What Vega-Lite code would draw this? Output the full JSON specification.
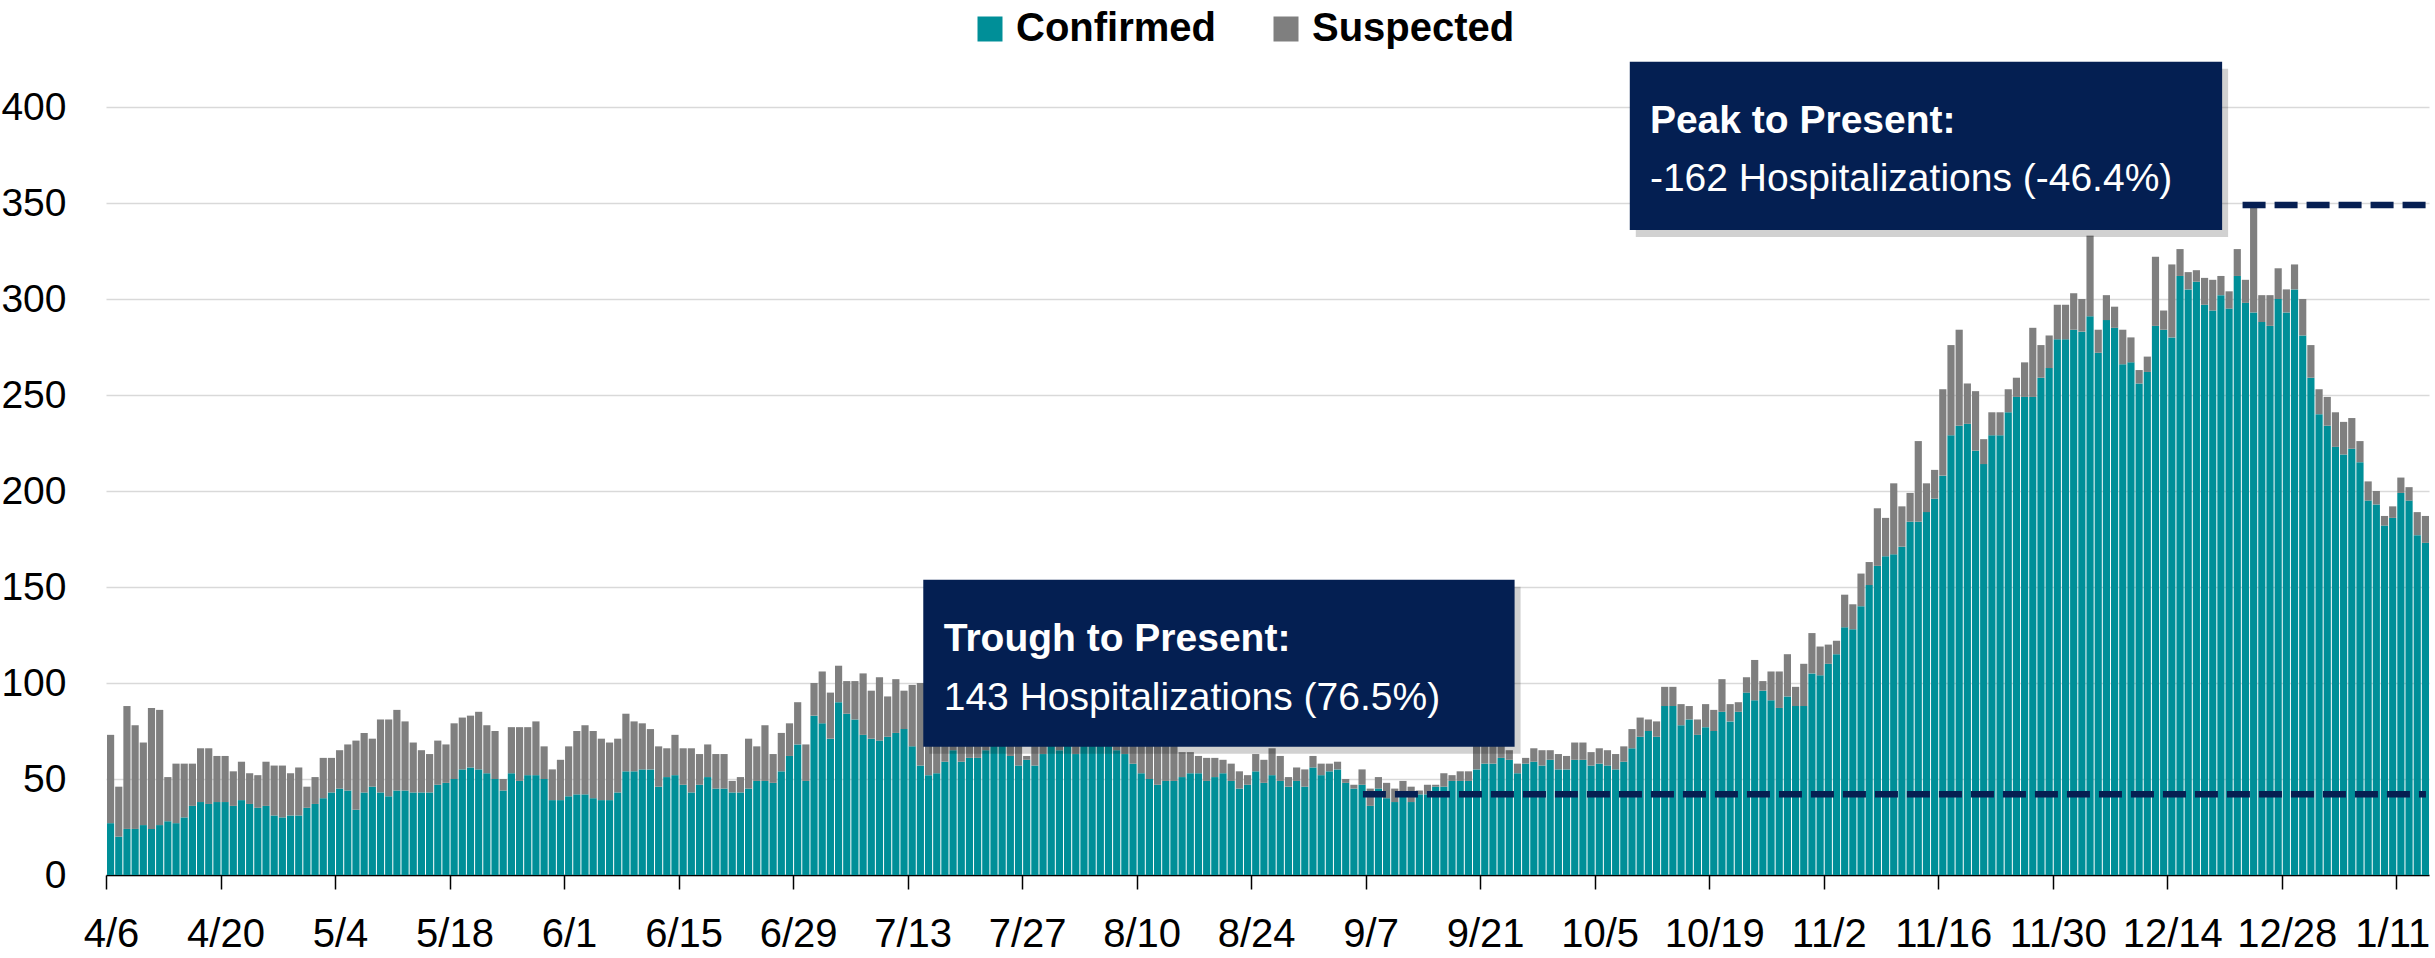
{
  "$schema": "https://vega.github.io/schema/vega-lite/v6.json",
  "width": 2323,
  "height": 768,
  "autosize": {"type": "none"},
  "padding": {"left": 106, "top": 107, "right": 6, "bottom": 83},
  "background": "white",
  "config": {"view": {"stroke": null}, "font": "Liberation Sans, Arial, sans-serif"},
  "datasets": {
    "hosp": [
      {"date":"2020-04-06","Confirmed":27,"Suspected":46},
      {"date":"2020-04-07","Confirmed":20,"Suspected":26},
      {"date":"2020-04-08","Confirmed":24,"Suspected":64},
      {"date":"2020-04-09","Confirmed":24,"Suspected":54},
      {"date":"2020-04-10","Confirmed":26,"Suspected":43},
      {"date":"2020-04-11","Confirmed":24,"Suspected":63},
      {"date":"2020-04-12","Confirmed":26,"Suspected":60},
      {"date":"2020-04-13","Confirmed":28,"Suspected":23},
      {"date":"2020-04-14","Confirmed":27,"Suspected":31},
      {"date":"2020-04-15","Confirmed":30,"Suspected":28},
      {"date":"2020-04-16","Confirmed":36,"Suspected":22},
      {"date":"2020-04-17","Confirmed":38,"Suspected":28},
      {"date":"2020-04-18","Confirmed":37,"Suspected":29},
      {"date":"2020-04-19","Confirmed":38,"Suspected":24},
      {"date":"2020-04-20","Confirmed":38,"Suspected":24},
      {"date":"2020-04-21","Confirmed":36,"Suspected":18},
      {"date":"2020-04-22","Confirmed":39,"Suspected":20},
      {"date":"2020-04-23","Confirmed":37,"Suspected":16},
      {"date":"2020-04-24","Confirmed":35,"Suspected":17},
      {"date":"2020-04-25","Confirmed":36,"Suspected":23},
      {"date":"2020-04-26","Confirmed":31,"Suspected":26},
      {"date":"2020-04-27","Confirmed":30,"Suspected":27},
      {"date":"2020-04-28","Confirmed":31,"Suspected":22},
      {"date":"2020-04-29","Confirmed":31,"Suspected":25},
      {"date":"2020-04-30","Confirmed":35,"Suspected":11},
      {"date":"2020-05-01","Confirmed":37,"Suspected":14},
      {"date":"2020-05-02","Confirmed":40,"Suspected":21},
      {"date":"2020-05-03","Confirmed":43,"Suspected":18},
      {"date":"2020-05-04","Confirmed":45,"Suspected":20},
      {"date":"2020-05-05","Confirmed":44,"Suspected":24},
      {"date":"2020-05-06","Confirmed":34,"Suspected":36},
      {"date":"2020-05-07","Confirmed":43,"Suspected":31},
      {"date":"2020-05-08","Confirmed":46,"Suspected":25},
      {"date":"2020-05-09","Confirmed":43,"Suspected":38},
      {"date":"2020-05-10","Confirmed":41,"Suspected":40},
      {"date":"2020-05-11","Confirmed":44,"Suspected":42},
      {"date":"2020-05-12","Confirmed":44,"Suspected":36},
      {"date":"2020-05-13","Confirmed":43,"Suspected":26},
      {"date":"2020-05-14","Confirmed":43,"Suspected":22},
      {"date":"2020-05-15","Confirmed":43,"Suspected":20},
      {"date":"2020-05-16","Confirmed":47,"Suspected":23},
      {"date":"2020-05-17","Confirmed":48,"Suspected":20},
      {"date":"2020-05-18","Confirmed":50,"Suspected":29},
      {"date":"2020-05-19","Confirmed":55,"Suspected":27},
      {"date":"2020-05-20","Confirmed":56,"Suspected":27},
      {"date":"2020-05-21","Confirmed":55,"Suspected":30},
      {"date":"2020-05-22","Confirmed":53,"Suspected":25},
      {"date":"2020-05-23","Confirmed":50,"Suspected":25},
      {"date":"2020-05-24","Confirmed":44,"Suspected":6},
      {"date":"2020-05-25","Confirmed":53,"Suspected":24},
      {"date":"2020-05-26","Confirmed":49,"Suspected":28},
      {"date":"2020-05-27","Confirmed":52,"Suspected":25},
      {"date":"2020-05-28","Confirmed":52,"Suspected":28},
      {"date":"2020-05-29","Confirmed":50,"Suspected":17},
      {"date":"2020-05-30","Confirmed":39,"Suspected":16},
      {"date":"2020-05-31","Confirmed":39,"Suspected":21},
      {"date":"2020-06-01","Confirmed":41,"Suspected":26},
      {"date":"2020-06-02","Confirmed":42,"Suspected":33},
      {"date":"2020-06-03","Confirmed":42,"Suspected":36},
      {"date":"2020-06-04","Confirmed":40,"Suspected":35},
      {"date":"2020-06-05","Confirmed":39,"Suspected":32},
      {"date":"2020-06-06","Confirmed":39,"Suspected":30},
      {"date":"2020-06-07","Confirmed":43,"Suspected":28},
      {"date":"2020-06-08","Confirmed":54,"Suspected":30},
      {"date":"2020-06-09","Confirmed":54,"Suspected":26},
      {"date":"2020-06-10","Confirmed":55,"Suspected":24},
      {"date":"2020-06-11","Confirmed":55,"Suspected":21},
      {"date":"2020-06-12","Confirmed":46,"Suspected":21},
      {"date":"2020-06-13","Confirmed":51,"Suspected":15},
      {"date":"2020-06-14","Confirmed":52,"Suspected":21},
      {"date":"2020-06-15","Confirmed":47,"Suspected":19},
      {"date":"2020-06-16","Confirmed":43,"Suspected":23},
      {"date":"2020-06-17","Confirmed":47,"Suspected":16},
      {"date":"2020-06-18","Confirmed":51,"Suspected":17},
      {"date":"2020-06-19","Confirmed":45,"Suspected":18},
      {"date":"2020-06-20","Confirmed":45,"Suspected":18},
      {"date":"2020-06-21","Confirmed":43,"Suspected":6},
      {"date":"2020-06-22","Confirmed":43,"Suspected":8},
      {"date":"2020-06-23","Confirmed":45,"Suspected":26},
      {"date":"2020-06-24","Confirmed":49,"Suspected":18},
      {"date":"2020-06-25","Confirmed":49,"Suspected":29},
      {"date":"2020-06-26","Confirmed":48,"Suspected":15},
      {"date":"2020-06-27","Confirmed":54,"Suspected":20},
      {"date":"2020-06-28","Confirmed":62,"Suspected":17},
      {"date":"2020-06-29","Confirmed":68,"Suspected":22},
      {"date":"2020-06-30","Confirmed":49,"Suspected":19},
      {"date":"2020-07-01","Confirmed":83,"Suspected":17},
      {"date":"2020-07-02","Confirmed":79,"Suspected":27},
      {"date":"2020-07-03","Confirmed":71,"Suspected":24},
      {"date":"2020-07-04","Confirmed":90,"Suspected":19},
      {"date":"2020-07-05","Confirmed":84,"Suspected":17},
      {"date":"2020-07-06","Confirmed":81,"Suspected":20},
      {"date":"2020-07-07","Confirmed":73,"Suspected":32},
      {"date":"2020-07-08","Confirmed":71,"Suspected":25},
      {"date":"2020-07-09","Confirmed":70,"Suspected":33},
      {"date":"2020-07-10","Confirmed":72,"Suspected":21},
      {"date":"2020-07-11","Confirmed":74,"Suspected":28},
      {"date":"2020-07-12","Confirmed":76,"Suspected":20},
      {"date":"2020-07-13","Confirmed":67,"Suspected":32},
      {"date":"2020-07-14","Confirmed":57,"Suspected":43},
      {"date":"2020-07-15","Confirmed":52,"Suspected":43},
      {"date":"2020-07-16","Confirmed":53,"Suspected":44},
      {"date":"2020-07-17","Confirmed":59,"Suspected":33},
      {"date":"2020-07-18","Confirmed":65,"Suspected":31},
      {"date":"2020-07-19","Confirmed":59,"Suspected":31},
      {"date":"2020-07-20","Confirmed":61,"Suspected":27},
      {"date":"2020-07-21","Confirmed":61,"Suspected":31},
      {"date":"2020-07-22","Confirmed":65,"Suspected":29},
      {"date":"2020-07-23","Confirmed":68,"Suspected":22},
      {"date":"2020-07-24","Confirmed":69,"Suspected":23},
      {"date":"2020-07-25","Confirmed":62,"Suspected":24},
      {"date":"2020-07-26","Confirmed":57,"Suspected":27},
      {"date":"2020-07-27","Confirmed":60,"Suspected":2},
      {"date":"2020-07-28","Confirmed":57,"Suspected":27},
      {"date":"2020-07-29","Confirmed":63,"Suspected":23},
      {"date":"2020-07-30","Confirmed":68,"Suspected":20},
      {"date":"2020-07-31","Confirmed":65,"Suspected":19},
      {"date":"2020-08-01","Confirmed":68,"Suspected":18},
      {"date":"2020-08-02","Confirmed":63,"Suspected":19},
      {"date":"2020-08-03","Confirmed":68,"Suspected":16},
      {"date":"2020-08-04","Confirmed":69,"Suspected":16},
      {"date":"2020-08-05","Confirmed":68,"Suspected":15},
      {"date":"2020-08-06","Confirmed":68,"Suspected":14},
      {"date":"2020-08-07","Confirmed":65,"Suspected":13},
      {"date":"2020-08-08","Confirmed":63,"Suspected":12},
      {"date":"2020-08-09","Confirmed":58,"Suspected":16},
      {"date":"2020-08-10","Confirmed":53,"Suspected":18},
      {"date":"2020-08-11","Confirmed":50,"Suspected":20},
      {"date":"2020-08-12","Confirmed":47,"Suspected":23},
      {"date":"2020-08-13","Confirmed":49,"Suspected":20},
      {"date":"2020-08-14","Confirmed":49,"Suspected":19},
      {"date":"2020-08-15","Confirmed":51,"Suspected":13},
      {"date":"2020-08-16","Confirmed":53,"Suspected":11},
      {"date":"2020-08-17","Confirmed":53,"Suspected":9},
      {"date":"2020-08-18","Confirmed":49,"Suspected":12},
      {"date":"2020-08-19","Confirmed":51,"Suspected":10},
      {"date":"2020-08-20","Confirmed":53,"Suspected":7},
      {"date":"2020-08-21","Confirmed":49,"Suspected":9},
      {"date":"2020-08-22","Confirmed":45,"Suspected":9},
      {"date":"2020-08-23","Confirmed":47,"Suspected":5},
      {"date":"2020-08-24","Confirmed":54,"Suspected":9},
      {"date":"2020-08-25","Confirmed":48,"Suspected":12},
      {"date":"2020-08-26","Confirmed":52,"Suspected":14},
      {"date":"2020-08-27","Confirmed":49,"Suspected":13},
      {"date":"2020-08-28","Confirmed":46,"Suspected":5},
      {"date":"2020-08-29","Confirmed":49,"Suspected":7},
      {"date":"2020-08-30","Confirmed":46,"Suspected":9},
      {"date":"2020-08-31","Confirmed":56,"Suspected":6},
      {"date":"2020-09-01","Confirmed":52,"Suspected":6},
      {"date":"2020-09-02","Confirmed":54,"Suspected":4},
      {"date":"2020-09-03","Confirmed":55,"Suspected":4},
      {"date":"2020-09-04","Confirmed":48,"Suspected":2},
      {"date":"2020-09-05","Confirmed":45,"Suspected":2},
      {"date":"2020-09-06","Confirmed":47,"Suspected":8},
      {"date":"2020-09-07","Confirmed":36,"Suspected":9},
      {"date":"2020-09-08","Confirmed":45,"Suspected":6},
      {"date":"2020-09-09","Confirmed":40,"Suspected":8},
      {"date":"2020-09-10","Confirmed":38,"Suspected":7},
      {"date":"2020-09-11","Confirmed":43,"Suspected":6},
      {"date":"2020-09-12","Confirmed":38,"Suspected":8},
      {"date":"2020-09-13","Confirmed":42,"Suspected":2},
      {"date":"2020-09-14","Confirmed":42,"Suspected":5},
      {"date":"2020-09-15","Confirmed":46,"Suspected":1},
      {"date":"2020-09-16","Confirmed":46,"Suspected":7},
      {"date":"2020-09-17","Confirmed":49,"Suspected":3},
      {"date":"2020-09-18","Confirmed":49,"Suspected":5},
      {"date":"2020-09-19","Confirmed":49,"Suspected":5},
      {"date":"2020-09-20","Confirmed":55,"Suspected":13},
      {"date":"2020-09-21","Confirmed":58,"Suspected":12},
      {"date":"2020-09-22","Confirmed":58,"Suspected":11},
      {"date":"2020-09-23","Confirmed":61,"Suspected":7},
      {"date":"2020-09-24","Confirmed":60,"Suspected":5},
      {"date":"2020-09-25","Confirmed":53,"Suspected":5},
      {"date":"2020-09-26","Confirmed":58,"Suspected":3},
      {"date":"2020-09-27","Confirmed":59,"Suspected":7},
      {"date":"2020-09-28","Confirmed":57,"Suspected":8},
      {"date":"2020-09-29","Confirmed":60,"Suspected":5},
      {"date":"2020-09-30","Confirmed":55,"Suspected":8},
      {"date":"2020-10-01","Confirmed":55,"Suspected":7},
      {"date":"2020-10-02","Confirmed":60,"Suspected":9},
      {"date":"2020-10-03","Confirmed":60,"Suspected":9},
      {"date":"2020-10-04","Confirmed":57,"Suspected":7},
      {"date":"2020-10-05","Confirmed":58,"Suspected":8},
      {"date":"2020-10-06","Confirmed":57,"Suspected":8},
      {"date":"2020-10-07","Confirmed":55,"Suspected":8},
      {"date":"2020-10-08","Confirmed":59,"Suspected":8},
      {"date":"2020-10-09","Confirmed":66,"Suspected":10},
      {"date":"2020-10-10","Confirmed":72,"Suspected":10},
      {"date":"2020-10-11","Confirmed":75,"Suspected":6},
      {"date":"2020-10-12","Confirmed":72,"Suspected":8},
      {"date":"2020-10-13","Confirmed":88,"Suspected":10},
      {"date":"2020-10-14","Confirmed":88,"Suspected":10},
      {"date":"2020-10-15","Confirmed":78,"Suspected":11},
      {"date":"2020-10-16","Confirmed":81,"Suspected":7},
      {"date":"2020-10-17","Confirmed":73,"Suspected":8},
      {"date":"2020-10-18","Confirmed":77,"Suspected":12},
      {"date":"2020-10-19","Confirmed":75,"Suspected":11},
      {"date":"2020-10-20","Confirmed":85,"Suspected":17},
      {"date":"2020-10-21","Confirmed":80,"Suspected":9},
      {"date":"2020-10-22","Confirmed":85,"Suspected":5},
      {"date":"2020-10-23","Confirmed":95,"Suspected":8},
      {"date":"2020-10-24","Confirmed":91,"Suspected":21},
      {"date":"2020-10-25","Confirmed":96,"Suspected":5},
      {"date":"2020-10-26","Confirmed":91,"Suspected":15},
      {"date":"2020-10-27","Confirmed":87,"Suspected":19},
      {"date":"2020-10-28","Confirmed":93,"Suspected":22},
      {"date":"2020-10-29","Confirmed":88,"Suspected":10},
      {"date":"2020-10-30","Confirmed":88,"Suspected":22},
      {"date":"2020-10-31","Confirmed":105,"Suspected":21},
      {"date":"2020-11-01","Confirmed":104,"Suspected":15},
      {"date":"2020-11-02","Confirmed":110,"Suspected":10},
      {"date":"2020-11-03","Confirmed":115,"Suspected":7},
      {"date":"2020-11-04","Confirmed":129,"Suspected":17},
      {"date":"2020-11-05","Confirmed":128,"Suspected":13},
      {"date":"2020-11-06","Confirmed":140,"Suspected":17},
      {"date":"2020-11-07","Confirmed":151,"Suspected":12},
      {"date":"2020-11-08","Confirmed":161,"Suspected":30},
      {"date":"2020-11-09","Confirmed":166,"Suspected":20},
      {"date":"2020-11-10","Confirmed":167,"Suspected":37},
      {"date":"2020-11-11","Confirmed":171,"Suspected":21},
      {"date":"2020-11-12","Confirmed":184,"Suspected":15},
      {"date":"2020-11-13","Confirmed":184,"Suspected":42},
      {"date":"2020-11-14","Confirmed":189,"Suspected":15},
      {"date":"2020-11-15","Confirmed":196,"Suspected":15},
      {"date":"2020-11-16","Confirmed":208,"Suspected":45},
      {"date":"2020-11-17","Confirmed":229,"Suspected":47},
      {"date":"2020-11-18","Confirmed":234,"Suspected":50},
      {"date":"2020-11-19","Confirmed":235,"Suspected":21},
      {"date":"2020-11-20","Confirmed":221,"Suspected":31},
      {"date":"2020-11-21","Confirmed":214,"Suspected":13},
      {"date":"2020-11-22","Confirmed":229,"Suspected":12},
      {"date":"2020-11-23","Confirmed":229,"Suspected":12},
      {"date":"2020-11-24","Confirmed":241,"Suspected":12},
      {"date":"2020-11-25","Confirmed":249,"Suspected":10},
      {"date":"2020-11-26","Confirmed":249,"Suspected":18},
      {"date":"2020-11-27","Confirmed":249,"Suspected":36},
      {"date":"2020-11-28","Confirmed":259,"Suspected":17},
      {"date":"2020-11-29","Confirmed":264,"Suspected":17},
      {"date":"2020-11-30","Confirmed":279,"Suspected":18},
      {"date":"2020-12-01","Confirmed":279,"Suspected":18},
      {"date":"2020-12-02","Confirmed":284,"Suspected":19},
      {"date":"2020-12-03","Confirmed":283,"Suspected":17},
      {"date":"2020-12-04","Confirmed":291,"Suspected":42},
      {"date":"2020-12-05","Confirmed":272,"Suspected":12},
      {"date":"2020-12-06","Confirmed":289,"Suspected":13},
      {"date":"2020-12-07","Confirmed":285,"Suspected":11},
      {"date":"2020-12-08","Confirmed":266,"Suspected":18},
      {"date":"2020-12-09","Confirmed":267,"Suspected":13},
      {"date":"2020-12-10","Confirmed":256,"Suspected":7},
      {"date":"2020-12-11","Confirmed":262,"Suspected":8},
      {"date":"2020-12-12","Confirmed":286,"Suspected":36},
      {"date":"2020-12-13","Confirmed":284,"Suspected":10},
      {"date":"2020-12-14","Confirmed":280,"Suspected":38},
      {"date":"2020-12-15","Confirmed":312,"Suspected":14},
      {"date":"2020-12-16","Confirmed":305,"Suspected":9},
      {"date":"2020-12-17","Confirmed":309,"Suspected":6},
      {"date":"2020-12-18","Confirmed":297,"Suspected":14},
      {"date":"2020-12-19","Confirmed":294,"Suspected":16},
      {"date":"2020-12-20","Confirmed":302,"Suspected":10},
      {"date":"2020-12-21","Confirmed":295,"Suspected":9},
      {"date":"2020-12-22","Confirmed":312,"Suspected":14},
      {"date":"2020-12-23","Confirmed":298,"Suspected":12},
      {"date":"2020-12-24","Confirmed":293,"Suspected":56},
      {"date":"2020-12-25","Confirmed":288,"Suspected":14},
      {"date":"2020-12-26","Confirmed":286,"Suspected":16},
      {"date":"2020-12-27","Confirmed":300,"Suspected":16},
      {"date":"2020-12-28","Confirmed":293,"Suspected":12},
      {"date":"2020-12-29","Confirmed":305,"Suspected":13},
      {"date":"2020-12-30","Confirmed":281,"Suspected":19},
      {"date":"2020-12-31","Confirmed":259,"Suspected":17},
      {"date":"2021-01-01","Confirmed":240,"Suspected":13},
      {"date":"2021-01-02","Confirmed":234,"Suspected":15},
      {"date":"2021-01-03","Confirmed":223,"Suspected":18},
      {"date":"2021-01-04","Confirmed":219,"Suspected":17},
      {"date":"2021-01-05","Confirmed":222,"Suspected":16},
      {"date":"2021-01-06","Confirmed":215,"Suspected":11},
      {"date":"2021-01-07","Confirmed":195,"Suspected":10},
      {"date":"2021-01-08","Confirmed":193,"Suspected":7},
      {"date":"2021-01-09","Confirmed":182,"Suspected":5},
      {"date":"2021-01-10","Confirmed":186,"Suspected":6},
      {"date":"2021-01-11","Confirmed":199,"Suspected":8},
      {"date":"2021-01-12","Confirmed":195,"Suspected":7},
      {"date":"2021-01-13","Confirmed":177,"Suspected":12},
      {"date":"2021-01-14","Confirmed":173,"Suspected":14}
    ],
    "rules": [
      {"x":"2020-09-06T16:00:00Z","x2":"2021-01-14T15:00:00Z","y":42},
      {"x":"2020-12-23T05:00:00Z","x2":"2021-01-14T15:00:00Z","y":349}
    ],
    "boxes": [
      {"x":"2020-07-14T22:00:00Z","x2":"2020-09-25T05:00:00Z","y":153.8,"y2":66.8},
      {"x":"2020-10-09T07:00:00Z","x2":"2020-12-20T17:00:00Z","y":423.6,"y2":336}
    ],
    "titles": [
      {"x":"2020-07-17T10:00:00Z","y":116.5,"label":"Trough to Present:"},
      {"x":"2020-10-11T18:00:00Z","y":386.5,"label":"Peak to Present:"}
    ],
    "details": [
      {"x":"2020-07-17T10:00:00Z","y":86,"label":"143 Hospitalizations (76.5%)"},
      {"x":"2020-10-11T18:00:00Z","y":356,"label":"-162 Hospitalizations (-46.4%)"}
    ]
  },
  "layer": [
    {
      "data": {"name": "hosp"},
      "transform": [{"fold": ["Confirmed", "Suspected"], "as": ["series", "count"]}],
      "mark": {"type": "bar", "timeUnitBandSize": 0.66},
      "encoding": {
        "x": {
          "field": "date", "timeUnit": "utcyearmonthdate", "type": "temporal", "title": null,
          "scale": {"type": "utc", "nice": false, "domain": [
            {"year": 2020, "month": 4, "date": 6, "utc": true},
            {"year": 2021, "month": 1, "date": 15, "utc": true}
          ]},
          "axis": {
            "values": [
              {"year":2020,"month":4,"date":6,"utc":true},
              {"year":2020,"month":4,"date":20,"utc":true},
              {"year":2020,"month":5,"date":4,"utc":true},
              {"year":2020,"month":5,"date":18,"utc":true},
              {"year":2020,"month":6,"date":1,"utc":true},
              {"year":2020,"month":6,"date":15,"utc":true},
              {"year":2020,"month":6,"date":29,"utc":true},
              {"year":2020,"month":7,"date":13,"utc":true},
              {"year":2020,"month":7,"date":27,"utc":true},
              {"year":2020,"month":8,"date":10,"utc":true},
              {"year":2020,"month":8,"date":24,"utc":true},
              {"year":2020,"month":9,"date":7,"utc":true},
              {"year":2020,"month":9,"date":21,"utc":true},
              {"year":2020,"month":10,"date":5,"utc":true},
              {"year":2020,"month":10,"date":19,"utc":true},
              {"year":2020,"month":11,"date":2,"utc":true},
              {"year":2020,"month":11,"date":16,"utc":true},
              {"year":2020,"month":11,"date":30,"utc":true},
              {"year":2020,"month":12,"date":14,"utc":true},
              {"year":2020,"month":12,"date":28,"utc":true},
              {"year":2021,"month":1,"date":11,"utc":true}
            ],
            "format": "%-m/%-d",
            "title": null,
            "grid": false,
            "domainColor": "#000000",
            "domainWidth": 1.5,
            "tickColor": "#000000",
            "tickWidth": 1.5,
            "tickSize": 14,
            "labelFont": "Liberation Sans, Arial, sans-serif",
            "labelFontSize": 40,
            "labelColor": "#000000",
            "labelPadding": 25,
            "labelOffset": {"condition": {"test": "datum.value > 1609459200000", "value": -4}, "value": 5},
            "labelFlush": false,
            "labelOverlap": false
          }
        },
        "y": {
          "field": "count", "type": "quantitative", "stack": "zero", "title": null,
          "scale": {"domain": [0, 400], "nice": false},
          "axis": {
            "values": [0, 50, 100, 150, 200, 250, 300, 350, 400],
            "title": null,
            "domain": false,
            "ticks": false,
            "tickSize": 0,
            "grid": true,
            "gridColor": "#D9D9D9",
            "gridWidth": 1.5,
            "labelFont": "Liberation Sans, Arial, sans-serif",
            "labelFontSize": 39,
            "labelColor": "#000000",
            "labelPadding": 40
          }
        },
        "color": {
          "field": "series", "type": "nominal",
          "scale": {"domain": ["Confirmed", "Suspected"], "range": ["#008F98", "#7F7F7F"]},
          "legend": {
            "orient": "none",
            "legendX": 864,
            "legendY": -98,
            "direction": "horizontal",
            "title": null,
            "symbolType": "square",
            "symbolSize": 625,
            "symbolStrokeWidth": 0,
            "symbolOpacity": 1,
            "labelFont": "Liberation Sans, Arial, sans-serif",
            "labelFontSize": 40,
            "labelFontWeight": "bold",
            "labelColor": "#000000",
            "labelOffset": 6,
            "labelLimit": 500,
            "columnPadding": 50,
            "padding": 0
          }
        },
        "order": {"field": "series", "sort": "ascending"}
      }
    },
    {
      "data": {"name": "rules"},
      "mark": {"type": "rule", "color": "#061F52", "strokeWidth": 6.5, "strokeDash": [23, 9]},
      "encoding": {
        "x": {"field": "x", "type": "temporal", "scale": {"type": "utc"}, "title": null},
        "x2": {"field": "x2"},
        "y": {"field": "y", "type": "quantitative", "title": null}
      }
    },
    {
      "data": {"name": "boxes"},
      "mark": {"type": "rect", "color": "#000000", "opacity": 0.18, "xOffset": 6, "x2Offset": 6, "yOffset": 7, "y2Offset": 7},
      "encoding": {
        "x": {"field": "x", "type": "temporal", "scale": {"type": "utc"}, "title": null},
        "x2": {"field": "x2"},
        "y": {"field": "y", "type": "quantitative", "title": null},
        "y2": {"field": "y2"}
      }
    },
    {
      "data": {"name": "boxes"},
      "mark": {"type": "rect", "color": "#041F52", "opacity": 1},
      "encoding": {
        "x": {"field": "x", "type": "temporal", "scale": {"type": "utc"}, "title": null},
        "x2": {"field": "x2"},
        "y": {"field": "y", "type": "quantitative", "title": null},
        "y2": {"field": "y2"}
      }
    },
    {
      "data": {"name": "titles"},
      "mark": {"type": "text", "align": "left", "baseline": "alphabetic", "font": "Liberation Sans, Arial, sans-serif", "fontSize": 39, "fontWeight": "bold", "color": "#FFFFFF"},
      "encoding": {
        "x": {"field": "x", "type": "temporal", "scale": {"type": "utc"}, "title": null},
        "y": {"field": "y", "type": "quantitative", "title": null},
        "text": {"field": "label"}
      }
    },
    {
      "data": {"name": "details"},
      "mark": {"type": "text", "align": "left", "baseline": "alphabetic", "font": "Liberation Sans, Arial, sans-serif", "fontSize": 39, "color": "#FFFFFF"},
      "encoding": {
        "x": {"field": "x", "type": "temporal", "scale": {"type": "utc"}, "title": null},
        "y": {"field": "y", "type": "quantitative", "title": null},
        "text": {"field": "label"}
      }
    }
  ]
}
